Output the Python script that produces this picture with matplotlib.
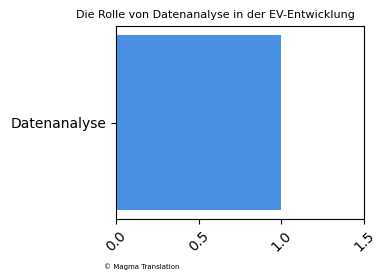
import matplotlib
matplotlib.use('Agg')
import matplotlib.pyplot as plt

categories = ['Datenanalyse']
values = [1.0]
xticks = [0.0, 0.5, 1.0, 1.5]

fig = plt.figure(figsize=(3.86, 2.8), dpi=100)
ax = fig.add_axes([0.3005, 0.218, 0.6425, 0.689])
ax.barh(categories, values, color='#4a90e2')
ax.set_xlim(0, 1.5)
ax.set_xticks(xticks)
ax.set_xticklabels(['%.1f' % v for v in xticks], rotation=45)
# title sits left of the axes centre in the reference
ax.set_title('Die Rolle von Datenanalyse in der EV-Entwicklung', fontsize=8,
             x=(215.5 / 386 - 0.3005) / 0.6425)
fig.text(0.27, 0.04, '\u00a9 Magma Translation', fontsize=5)
fig.savefig('out.png', dpi=100)
